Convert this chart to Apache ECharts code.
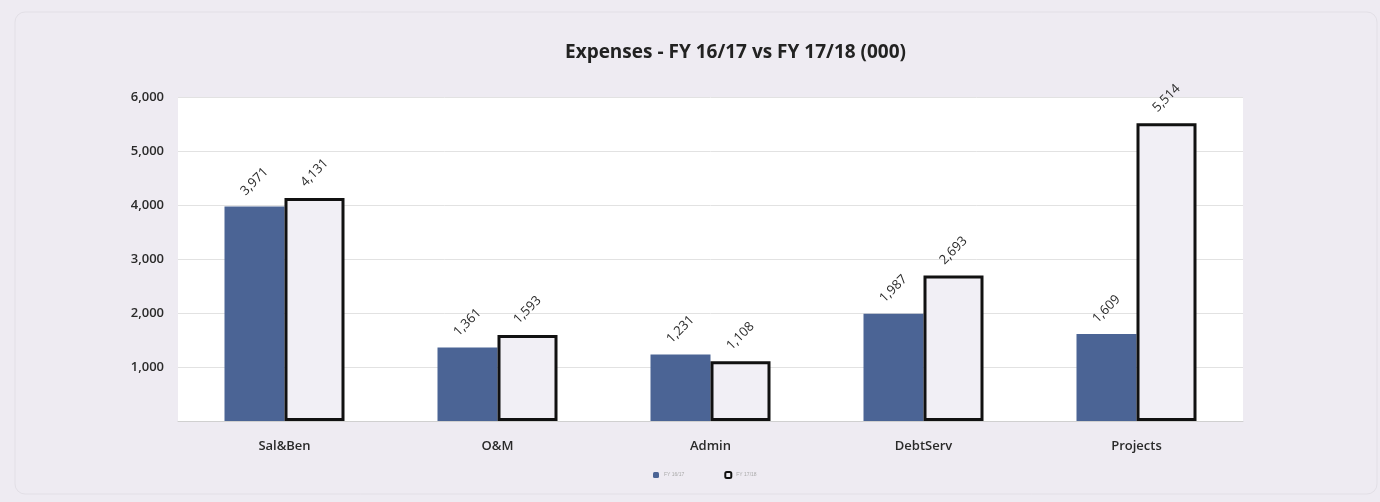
<!DOCTYPE html>
<html>
<head>
<meta charset="utf-8">
<script src="https://cdn.jsdelivr.net/npm/echarts@6/dist/echarts.min.js"></script>
<style>html,body{margin:0;padding:0;background:#eeebf2;}#c{width:1380px;height:502px;}</style>
</head>
<body>
<div id="c"></div>
<script>
const categories = ['Sal&Ben', 'O&M', 'Admin', 'DebtServ', 'Projects'];
const fy1617 = [3971, 1361, 1231, 1987, 1609];
const fy1718 = [4131, 1593, 1108, 2693, 5514];
const seriesNames = ['FY 16/17', 'FY 17/18'];
const yTicks = [0, 1000, 2000, 3000, 4000, 5000, 6000];

const chart = echarts.init(document.getElementById('c'));
const fontFam = '"Open Sans", "DejaVu Sans", sans-serif';
const labelCfg = {
  show: true,
  position: 'top',
  rotate: 45,
  align: 'center',
  verticalAlign: 'middle',
  distance: 25,
  fontSize: 13,
  fontFamily: fontFam,
  color: '#2a2a2a',
  formatter: p => p.value.toLocaleString('en-US')
};
chart.setOption({
  backgroundColor: '#eeebf2',
  animation: false,
  graphic: [{
    type: 'rect',
    shape: { x: 15, y: 12, width: 1362, height: 482, r: 10 },
    style: { fill: 'none', stroke: '#e2dfe6', lineWidth: 1 },
    z: -1
  }],
  title: {
    text: 'Expenses - FY 16/17 vs FY 17/18 (000)',
    left: 560,
    top: 38,
    textStyle: { fontSize: 19, fontWeight: 'bold', color: '#222', fontFamily: fontFam }
  },
  legend: {
    data: seriesNames,
    bottom: 18,
    left: 648,
    itemWidth: 6,
    itemHeight: 6,
    itemGap: 40,
    textStyle: { fontSize: 5, color: '#aaa' }
  },
  grid: {
    left: 178, right: 137, top: 97, bottom: 81,
    show: true, backgroundColor: '#ffffff', borderWidth: 0
  },
  xAxis: {
    type: 'category',
    data: categories,
    axisLine: { lineStyle: { color: '#d0d0d0' } },
    axisTick: { show: false },
    axisLabel: { fontSize: 13, fontWeight: 600, color: '#2a2a2a', fontFamily: fontFam, margin: 19 }
  },
  yAxis: {
    type: 'value',
    min: 0, max: 6000, interval: 1000,
    axisLine: { show: false },
    axisTick: { show: false },
    splitLine: { lineStyle: { color: '#e2e2e2' } },
    axisLabel: {
      fontSize: 13, fontWeight: 600, color: '#2a2a2a', fontFamily: fontFam, margin: 14,
      formatter: v => yTicks.includes(v) && v !== 0 ? v.toLocaleString('en-US') : ''
    }
  },
  series: [
    {
      name: seriesNames[0], type: 'bar', data: fy1617,
      barWidth: 60, barGap: '0%',
      itemStyle: { color: '#4b6495' },
      label: labelCfg
    },
    {
      name: seriesNames[1], type: 'bar', data: fy1718,
      barWidth: 60,
      itemStyle: { color: '#f1eff5', borderColor: '#111', borderWidth: 3 },
      label: labelCfg
    }
  ]
});
</script>
</body>
</html>
